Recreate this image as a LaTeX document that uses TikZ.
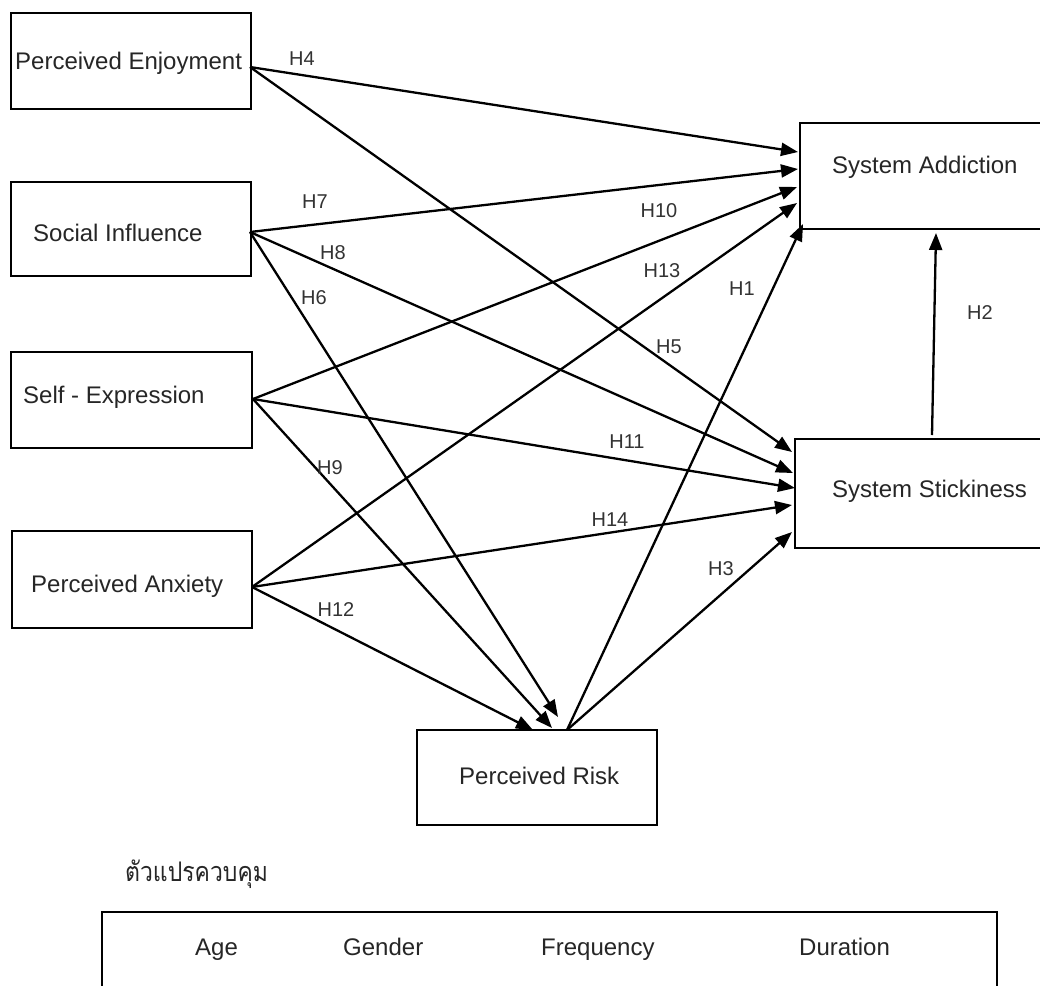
\documentclass[tikz,border=0pt]{standalone}
\usepackage{fontspec}
\setmainfont{Liberation Sans}
\newfontfamily\thaifont[Script=Thai,FakeStretch=0.85]{Loma}
\usetikzlibrary{arrows.meta}
\begin{document}
\begin{tikzpicture}[x=1pt,y=-1pt,
  box/.style={draw, line width=2pt, inner sep=0pt, outer sep=0pt},
  txt/.style={anchor=base west, inner sep=0pt, font=\fontsize{24}{28}\selectfont, text=black!85},
  hyp/.style={inner sep=0pt, font=\fontsize{20}{24}\selectfont, text=black!80},
  link/.style={line width=2.3pt, -{Triangle[length=17pt,width=13pt]}}]
\useasboundingbox (0,0) rectangle (1040,985);
\clip (0,0) rectangle (1040,985);
\fill[white] (0,0) rectangle (1040,985);

% boxes
\node[box, minimum width=240pt, minimum height=96pt] (PE) at (131,61) {};
\node[box, minimum width=240pt, minimum height=94pt] (SI) at (131,229) {};
\node[box, minimum width=241pt, minimum height=96pt] (SE) at (131.5,400) {};
\node[box, minimum width=240pt, minimum height=97pt] (PA) at (132,579.5) {};
\node[box, minimum width=250pt, minimum height=106pt] (SA) at (925,176) {};
\node[box, minimum width=255pt, minimum height=109pt] (SS) at (922.5,493.5) {};
\node[box, minimum width=240pt, minimum height=95pt] (PR) at (537,777.5) {};
\node[box, minimum width=895pt, minimum height=100pt] (CV) at (549.5,962) {};

% box texts
\node[txt] (tPE) at (15,69) {Perceived Enjoyment};
\node[txt] (tSI) at (33,241) {Social Influence};
\node[txt] (tSE) at (23,403) {Self - Expression};
\node[txt] (tPA) at (31,592) {Perceived Anxiety};
\node[txt] (tSA) at (832,173) {System Addiction};
\node[txt] (tSS) at (832,497) {System Stickiness};
\node[txt] (tPR) at (459,784) {Perceived Risk};
\node[txt] (tAge) at (195,955) {Age};
\node[txt] (tGen) at (343,955) {Gender};
\node[txt] (tFre) at (541,955) {Frequency};
\node[txt] (tDur) at (799,955) {Duration};
\node[anchor=base west, inner sep=0pt, font=\thaifont\fontsize{27}{32}\selectfont, text=black!85] (tCtl) at (125,881) {ตัวแปรควบคุม};

% connector end points
\coordinate (PEo) at (250,67);
\coordinate (SIo) at (250,232);
\coordinate (SEo) at (253,399);
\coordinate (PAo) at (252,587);
\coordinate (PRo) at (567,730);
\coordinate (SSo) at (932,435);
\coordinate (SA1) at (798,152);
\coordinate (SA2) at (798,169);
\coordinate (SA3) at (797,187);
\coordinate (SA4) at (797,203);
\coordinate (SA5) at (803,224);
\coordinate (SA6) at (936,233);
\coordinate (SS1) at (792,452);
\coordinate (SS2) at (793,473);
\coordinate (SS3) at (795,488);
\coordinate (SS4) at (792,505);
\coordinate (SS5) at (792,532);
\coordinate (PR1) at (558,717);
\coordinate (PR2) at (552,728);
\coordinate (PR3) at (533,730);

% connectors
\draw[link] (PEo) -- (SA1);
\draw[link] (PEo) -- (SS1);
\draw[link] (SIo) -- (SA2);
\draw[link] (SIo) -- (SS2);
\draw[link] (SIo) -- (PR1);
\draw[link] (SEo) -- (SA3);
\draw[link] (SEo) -- (SS3);
\draw[link] (SEo) -- (PR2);
\draw[link] (PAo) -- (SA4);
\draw[link] (PAo) -- (SS4);
\draw[link] (PAo) -- (PR3);
\draw[link] (PRo) -- (SA5);
\draw[link] (PRo) -- (SS5);
\draw[link] (SSo) -- (SA6);

% hypothesis labels
\node[hyp] (h4) at (302,59) {H4};
\node[hyp] (h7) at (315,202) {H7};
\node[hyp] (h8) at (333,253) {H8};
\node[hyp] (h6) at (314,298) {H6};
\node[hyp] (h9) at (330,468) {H9};
\node[hyp] (h12) at (336,610) {H12};
\node[hyp] (h10) at (659,211) {H10};
\node[hyp] (h13) at (662,271) {H13};
\node[hyp] (h1) at (742,289) {H1};
\node[hyp] (h5) at (669,347) {H5};
\node[hyp] (h11) at (627,442) {H11};
\node[hyp] (h14) at (610,520) {H14};
\node[hyp] (h3) at (721,569) {H3};
\node[hyp] (h2) at (980,313) {H2};
\end{tikzpicture}
\end{document}
